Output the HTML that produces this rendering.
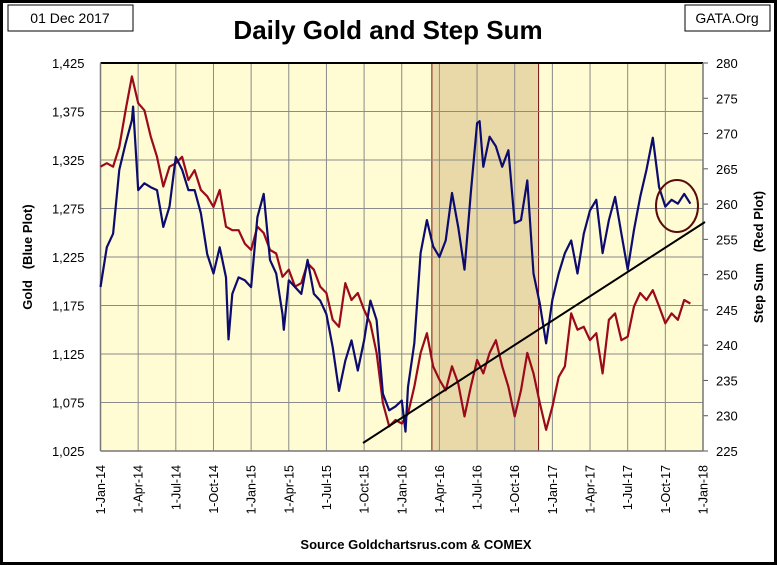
<!DOCTYPE html>
<html><head><meta charset="utf-8"><style>
body{margin:0;background:#fff;}
svg{display:block;font-family:"Liberation Sans",sans-serif;}
</style></head><body>
<svg id="c" width="777" height="565" xmlns="http://www.w3.org/2000/svg">
<rect x="1.5" y="1.5" width="774" height="562" fill="#fff" stroke="#000" stroke-width="3"/>
<rect x="8" y="5" width="125" height="26" fill="#fff" stroke="#000" stroke-width="1"/>
<text x="70" y="23" font-size="14" text-anchor="middle">01 Dec 2017</text>
<rect x="685" y="5" width="85" height="26" fill="#fff" stroke="#000" stroke-width="1"/>
<text x="727" y="23" font-size="14" text-anchor="middle">GATA.Org</text>
<text x="388" y="39" font-size="26" font-weight="bold" text-anchor="middle">Daily Gold and Step Sum</text>
<g id="plot"></g>
<text x="416" y="549" font-size="13" font-weight="bold" text-anchor="middle">Source Goldchartsrus.com &amp; COMEX</text>
<text transform="translate(32,257) rotate(-90)" font-size="13" font-weight="bold" text-anchor="middle">Gold&#160;&#160;&#160;(Blue Plot)</text>
<text transform="translate(763,257) rotate(-90)" font-size="13" font-weight="bold" text-anchor="middle">Step Sum&#160;&#160;&#160;(Red Plot)</text>
</svg>
<script>
const xTickLabels=["1-Jan-14","1-Apr-14","1-Jul-14","1-Oct-14","1-Jan-15","1-Apr-15","1-Jul-15","1-Oct-15","1-Jan-16","1-Apr-16","1-Jul-16","1-Oct-16","1-Jan-17","1-Apr-17","1-Jul-17","1-Oct-17","1-Jan-18"];
const leftTicks=[1025,1075,1125,1175,1225,1275,1325,1375,1425];
const rightTicks=[225,230,235,240,245,250,255,260,265,270,275,280];
const goldMonths=[0,0.5,1,1.5,2,2.5,2.6,3,3.5,4,4.5,5,5.5,6,6.5,7,7.5,8,8.5,9,9.5,10,10.2,10.5,11,11.5,12,12.5,13,13.5,14,14.5,14.6,15,15.5,16,16.5,17,17.5,18,18.5,19,19.5,20,20.5,21,21.5,22,22.5,23,23.5,24,24.3,24.5,25,25.5,26,26.5,27,27.5,28,28.5,29,29.5,30,30.2,30.5,31,31.5,32,32.5,33,33.5,34,34.5,35,35.5,36,36.5,37,37.5,38,38.5,39,39.5,40,40.5,41,41.5,42,42.5,43,43.5,44,44.5,45,45.5,46,46.5,47];
const goldValues=[1194,1235,1249,1315,1342,1366,1380,1294,1301,1297,1294,1256,1277,1328,1315,1294,1294,1270,1228,1208,1235,1204,1140,1187,1204,1201,1194,1266,1290,1222,1208,1166,1150,1201,1194,1187,1222,1187,1180,1166,1132,1087,1118,1139,1108,1139,1180,1160,1084,1067,1071,1077,1045,1091,1136,1229,1263,1236,1225,1242,1291,1256,1212,1291,1363,1365,1318,1349,1339,1318,1335,1260,1263,1304,1208,1177,1136,1181,1208,1229,1242,1208,1249,1273,1284,1229,1263,1287,1249,1212,1253,1287,1315,1348,1297,1277,1284,1280,1290,1280];
const stepMonths=[0,0.5,1,1.5,2,2.5,3,3.5,4,4.5,5,5.5,6,6.5,7,7.5,8,8.5,9,9.5,10,10.5,11,11.5,12,12.5,13,13.5,14,14.5,15,15.5,16,16.5,17,17.5,18,18.5,19,19.5,20,20.5,21,21.5,22,22.5,23,23.5,24,24.5,25,25.5,26,26.5,27,27.5,28,28.5,29,29.5,30,30.5,31,31.5,32,32.5,33,33.5,34,34.5,35,35.5,36,36.5,37,37.5,38,38.5,39,39.5,40,40.5,41,41.5,42,42.5,43,43.5,44,44.5,45,45.5,46,46.5,47];
const stepValues=[265.3,265.8,265.3,268.1,273.3,278.1,274.3,273.3,269.6,266.7,262.5,265.3,265.8,266.7,263.4,264.8,262.0,261.1,259.6,262.0,256.8,256.3,256.3,254.4,253.5,256.8,255.9,253.5,253.0,249.7,250.7,248.3,248.8,251.6,250.7,248.3,247.4,243.6,242.6,248.8,246.4,247.4,245.0,243.1,238.9,231.8,228.5,229.4,228.9,230.3,234.1,238.9,241.7,237.0,235.1,233.6,237.0,234.6,229.9,234.1,237.9,236.0,238.9,240.7,237.0,234.1,229.9,233.6,238.9,236.0,231.8,228.0,231.3,235.5,237.0,244.5,242.2,242.6,240.7,241.7,236.0,243.6,244.5,240.7,241.2,245.5,247.4,246.4,247.8,245.5,243.1,244.5,243.6,246.4,245.9];

const L=100.5,R=703,T=63,B=451;
const X=m=>L+m*(R-L)/48;
const YL=v=>B-(v-1025)*(B-T)/400;
const YR=v=>B-(v-225)*(B-T)/55;
const NS="http://www.w3.org/2000/svg";
const g=document.getElementById('plot');
function mk(tag,attrs,parent){const e=document.createElementNS(NS,tag);for(const k in attrs)e.setAttribute(k,attrs[k]);(parent||g).appendChild(e);return e;}

let e=mk('rect',{x:L,y:T,width:R-L,height:B-T,fill:'#fffbd2'});


e=mk('rect',{x:X(26.4),y:T,width:X(34.9)-X(26.4),height:B-T,fill:'#ead9a8',stroke:'#7a1010','stroke-width':1});



for(let i=0;i<xTickLabels.length;i++){
  const x=X(i*3);
  e=mk('line',{x1:x,y1:T,x2:x,y2:B,stroke:'#8a8a8a','stroke-width':1});
  
  
  e=mk('text',{transform:`translate(${x+4.5},${B+14}) rotate(-90)`,'font-size':12.5,'text-anchor':'end'});
  e.textContent=xTickLabels[i];
  
  
}
leftTicks.forEach(v=>{
  const y=YL(v);
  e=mk('line',{x1:L,y1:y,x2:R,y2:y,stroke:'#8a8a8a','stroke-width':1});
  
  
  e=mk('text',{x:L-16,y:y+5,'font-size':13,'text-anchor':'end'});
  e.textContent=v.toLocaleString('en-US');
  
  
});
rightTicks.forEach(v=>{
  const y=YR(v);
  e=mk('line',{x1:R,y1:y,x2:R+5,y2:y,stroke:'#555','stroke-width':1});
  
  
  e=mk('text',{x:R+13,y:y+5,'font-size':13,'text-anchor':'start'});
  e.textContent=v;
  
  
});
e=mk('line',{x1:L,y1:T,x2:R,y2:T,stroke:'#000','stroke-width':2});


e=mk('line',{x1:L,y1:T,x2:L,y2:B,stroke:'#777','stroke-width':1.5});


e=mk('line',{x1:R,y1:T,x2:R,y2:B,stroke:'#777','stroke-width':1.5});


e=mk('line',{x1:L,y1:B,x2:R,y2:B,stroke:'#777','stroke-width':1.5});



let d=stepMonths.map((m,i)=>(i?'L':'M')+X(m).toFixed(1)+','+YR(stepValues[i]).toFixed(1)).join('');
e=mk('path',{d:d,fill:'none',stroke:'#9b0a1c','stroke-width':2.2,'stroke-linejoin':'round'});


d=goldMonths.map((m,i)=>(i?'L':'M')+X(m).toFixed(1)+','+YL(goldValues[i]).toFixed(1)).join('');
e=mk('path',{d:d,fill:'none',stroke:'#0c0c6e','stroke-width':2.2,'stroke-linejoin':'round'});



e=mk('line',{x1:363,y1:443,x2:705,y2:222,stroke:'#000','stroke-width':2});


e=mk('ellipse',{cx:677,cy:206,rx:21,ry:26,fill:'none',stroke:'#5a0a0a','stroke-width':2});


</script>
</body></html>
